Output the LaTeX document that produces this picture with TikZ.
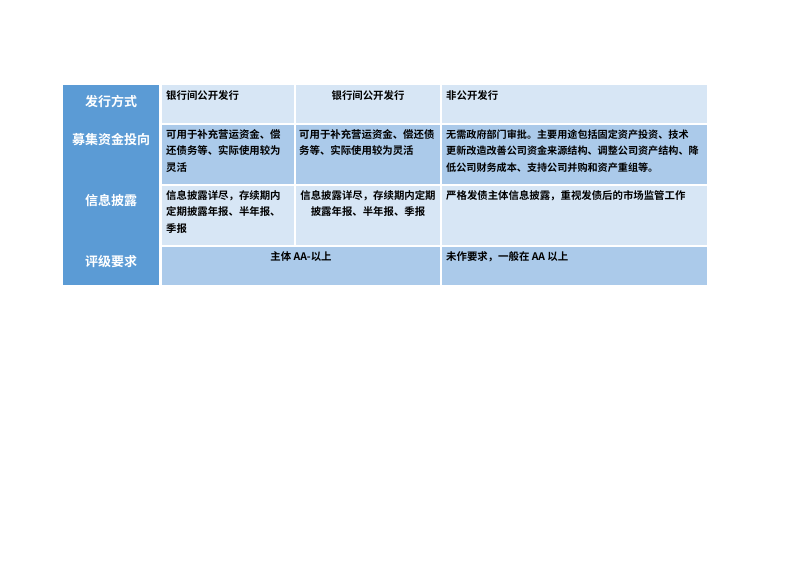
\documentclass[tikz,border=0pt]{standalone}
\usepackage{fontspec}
\setmainfont{Noto Sans CJK SC}[BoldFont={Noto Sans CJK SC Bold}]
\usepackage{tikz}
\usetikzlibrary{positioning}

\definecolor{headblue}{HTML}{5B9BD5}
\definecolor{lightrow}{HTML}{D7E6F5}
\definecolor{darkrow}{HTML}{ABCAEA}

\tikzset{
    headtext/.style={text=white, inner sep=0pt, font=\fontsize{13}{15}\selectfont\bfseries},
    celltext/.style={inner sep=0pt, align=left, anchor=base west, font=\fontsize{10.4}{16.5}\selectfont\bfseries},
    midtext/.style={celltext, align=center, anchor=base}
}

\begin{document}
\begin{tikzpicture}[x=1pt, y=-1pt]
    \useasboundingbox (0, 0) rectangle (792, 560);

    % left header column
    \fill[headblue] (63, 85) rectangle (159, 285);

    % body cells
    \foreach \ya/\yb/\c in {85/123/lightrow, 125/184/darkrow, 186/245/lightrow} {
        \fill[\c] (162, \ya) rectangle (294, \yb);
        \fill[\c] (296, \ya) rectangle (440, \yb);
        \fill[\c] (442, \ya) rectangle (707, \yb);
    }
    \fill[darkrow] (162, 247) rectangle (440, 285);
    \fill[darkrow] (442, 247) rectangle (707, 285);

    % header labels
    \node[headtext] (way) at (111, 101) {发行方式};
    \node[headtext] (use) at (111, 140) {募集资金投向};
    \node[headtext] (info) at (111, 201) {信息披露};
    \node[headtext] (rate) at (111, 262) {评级要求};

    % row 1
    \node[celltext] (way1) at (166, 99) {银行间公开发行};
    \node[midtext] (way2) at (368, 99) {银行间公开发行};
    \node[celltext] (way3) at (446, 99) {非公开发行};

    % row 2 (base = last line)
    \node[celltext] (use1) at (166, 171) {可用于补充营运资金、偿\\还债务等、实际使用较为\\灵活};
    \node[celltext] (use2) at (299, 154.5) {可用于补充营运资金、偿还债\\务等、实际使用较为灵活};
    \node[celltext, font=\fontsize{10.1}{16.5}\selectfont\bfseries] (use3) at (446, 171) {无需政府部门审批。主要用途包括固定资产投资、技术\\更新改造改善公司资金来源结构、调整公司资产结构、降\\低公司财务成本、支持公司并购和资产重组等。};

    % row 3
    \node[celltext] (info1) at (166, 232) {信息披露详尽，存续期内\\定期披露年报、半年报、\\季报};
    \node[midtext] (info2) at (368, 215.5) {信息披露详尽，存续期内定期\\披露年报、半年报、季报};
    \node[celltext] (info3) at (446, 199) {严格发债主体信息披露，重视发债后的市场监管工作};

    % row 4
    \node[midtext] (rate1) at (301, 260) {主体 AA-以上};
    \node[celltext] (rate2) at (446, 260) {未作要求，一般在 AA 以上};
\end{tikzpicture}
\end{document}
